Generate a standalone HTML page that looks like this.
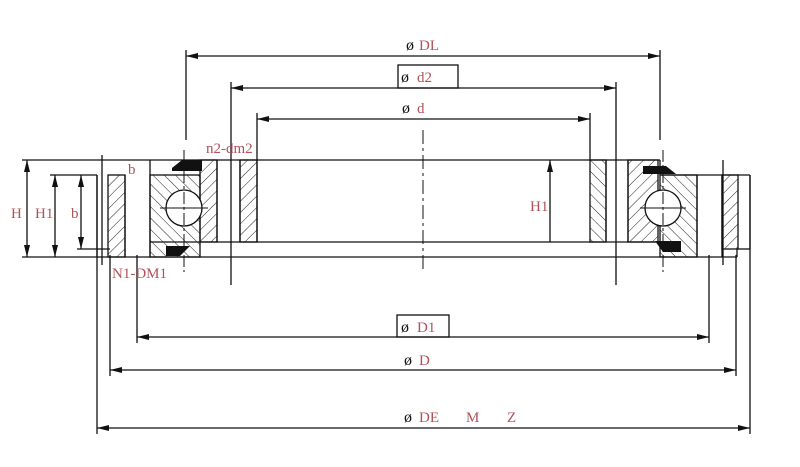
<!DOCTYPE html>
<html><head><meta charset="utf-8"><style>
html,body{margin:0;padding:0;background:#fff}
svg{display:block}
.r{fill:#b0525a;font-family:"Liberation Serif",serif;font-size:15px}
.k{fill:#111;font-family:"Liberation Serif",serif;font-size:16px}
</style></head><body>
<svg width="800" height="467" viewBox="0 0 800 467" xmlns="http://www.w3.org/2000/svg">
<defs>
<marker id="a" markerWidth="12" markerHeight="6" refX="12" refY="3" orient="auto-start-reverse" markerUnits="userSpaceOnUse"><path d="M0,0 L12,3 L0,6 Z" fill="#111"/></marker>
<pattern id="h" width="8" height="8" patternUnits="userSpaceOnUse" patternTransform="rotate(45)"><line x1="0" y1="0" x2="0" y2="8" stroke="#222" stroke-width="1"/></pattern>
<pattern id="h2" width="8" height="8" patternUnits="userSpaceOnUse" patternTransform="rotate(-45)"><line x1="0" y1="0" x2="0" y2="8" stroke="#222" stroke-width="1"/></pattern>
</defs>
<g stroke="#111" stroke-width="1.3" fill="none">
<line x1="186" y1="56" x2="660" y2="56" marker-start="url(#a)" marker-end="url(#a)"/>
<line x1="231" y1="88" x2="616" y2="88" marker-start="url(#a)" marker-end="url(#a)"/>
<rect x="398" y="65" width="60" height="23"/>
<line x1="257" y1="119" x2="590" y2="119" marker-start="url(#a)" marker-end="url(#a)"/>
<line x1="137" y1="337" x2="709" y2="337" marker-start="url(#a)" marker-end="url(#a)"/>
<rect x="397" y="315" width="52" height="22"/>
<line x1="110" y1="370" x2="736" y2="370" marker-start="url(#a)" marker-end="url(#a)"/>
<line x1="97" y1="428" x2="750" y2="428" marker-start="url(#a)" marker-end="url(#a)"/>
<line x1="186" y1="50" x2="186" y2="140"/><line x1="660" y1="50" x2="660" y2="140"/>
<line x1="231" y1="82" x2="231" y2="285"/><line x1="616" y1="82" x2="616" y2="285"/>
<line x1="257" y1="113" x2="257" y2="160"/><line x1="590" y1="113" x2="590" y2="160"/>
<line x1="137" y1="255" x2="137" y2="343"/><line x1="709" y1="255" x2="709" y2="343"/>
<line x1="110" y1="255" x2="110" y2="376"/><line x1="736" y1="255" x2="736" y2="376"/>
<line x1="97" y1="175" x2="97" y2="434"/><line x1="750" y1="175" x2="750" y2="434"/>
<line x1="102" y1="155" x2="102" y2="265"/><line x1="723" y1="160" x2="723" y2="265"/>
<line x1="423" y1="130" x2="423" y2="270" stroke-dasharray="14,4,3,4" stroke-width="1"/>
<line x1="22" y1="160" x2="150" y2="160"/>
<line x1="50" y1="175" x2="97" y2="175"/>
<line x1="22" y1="257" x2="737" y2="257"/>
<line x1="77" y1="249" x2="110" y2="249"/>
<line x1="27" y1="160" x2="27" y2="257" marker-start="url(#a)" marker-end="url(#a)"/>
<line x1="55" y1="175" x2="55" y2="257" marker-start="url(#a)" marker-end="url(#a)"/>
<line x1="81" y1="175" x2="81" y2="249" marker-start="url(#a)" marker-end="url(#a)"/>
<line x1="550" y1="242" x2="550" y2="160" marker-end="url(#a)"/>
<line x1="150" y1="160" x2="660" y2="160"/>
<line x1="150" y1="242" x2="655" y2="242"/>
<line x1="660" y1="175" x2="750" y2="175"/>
<line x1="737" y1="249" x2="750" y2="249"/>
<line x1="737" y1="249" x2="737" y2="257"/>
<line x1="750" y1="175" x2="750" y2="249"/>
<line x1="97" y1="175" x2="97" y2="257"/>
<line x1="150" y1="160" x2="150" y2="175"/>
<line x1="660" y1="160" x2="660" y2="175"/>
<rect x="108" y="175" width="17" height="82" fill="url(#h)"/>
<rect x="150" y="175" width="50" height="82" fill="url(#h2)"/>
<rect x="200" y="160" width="17" height="82" fill="url(#h)"/>
<rect x="240" y="160" width="17" height="82" fill="url(#h)"/>
<line x1="125" y1="175" x2="125" y2="257"/>
<line x1="150" y1="175" x2="150" y2="257"/>
<line x1="217" y1="160" x2="217" y2="242"/>
<line x1="240" y1="160" x2="240" y2="242"/>
<line x1="257" y1="160" x2="257" y2="242"/>
<rect x="590" y="160" width="16" height="82" fill="url(#h2)"/>
<rect x="628" y="160" width="30" height="82" fill="url(#h)"/>
<rect x="660" y="175" width="37" height="82" fill="url(#h2)"/>
<rect x="722" y="175" width="16" height="74" fill="url(#h)"/>
<line x1="606" y1="160" x2="606" y2="242"/>
<line x1="628" y1="160" x2="628" y2="242"/>
<line x1="697" y1="175" x2="697" y2="257"/>
<line x1="722" y1="175" x2="722" y2="257"/>
<circle cx="184" cy="208" r="18" fill="#fff"/>
<circle cx="663" cy="208" r="18" fill="#fff"/>
<line x1="184" y1="150" x2="184" y2="272" stroke-dasharray="12,3,3,3" stroke-width="1"/>
<line x1="663" y1="150" x2="663" y2="272" stroke-dasharray="12,3,3,3" stroke-width="1"/>
<line x1="160" y1="208" x2="208" y2="208" stroke-width="1"/>
<line x1="640" y1="208" x2="686" y2="208" stroke-width="1"/>
</g>
<g fill="#111">
<path d="M172,168 L182,160 L202,160 L202,171 L172,171Z"/>
<path d="M166,246 L190,246 L180,256 L166,256Z"/>
<path d="M643,166 L666,166 L676,174 L643,174Z"/>
<path d="M655,241 L681,241 L681,252 L663,252Z"/>
</g>
<g>
<text class="r" x="206" y="153">n2-dm2</text>
<text class="r" x="128" y="174">b</text>
<text class="r" x="112" y="278">N1-DM1</text>
<text class="r" x="11" y="218">H</text>
<text class="r" x="35" y="218">H1</text>
<text class="r" x="71" y="218">b</text>
<text class="r" x="530" y="211">H1</text>
<text class="k" x="406" y="50">ø</text><text class="r" x="419" y="50">DL</text>
<text class="k" x="401" y="82">ø</text><text class="r" x="417" y="82">d2</text>
<text class="k" x="402" y="113">ø</text><text class="r" x="417" y="113">d</text>
<text class="k" x="401" y="332">ø</text><text class="r" x="417" y="332">D1</text>
<text class="k" x="404" y="365">ø</text><text class="r" x="419" y="365">D</text>
<text class="k" x="404" y="422">ø</text><text class="r" x="419" y="422">DE</text>
<text class="r" x="466" y="422">M</text><text class="r" x="507" y="422">Z</text>
</g>
</svg>
</body></html>
